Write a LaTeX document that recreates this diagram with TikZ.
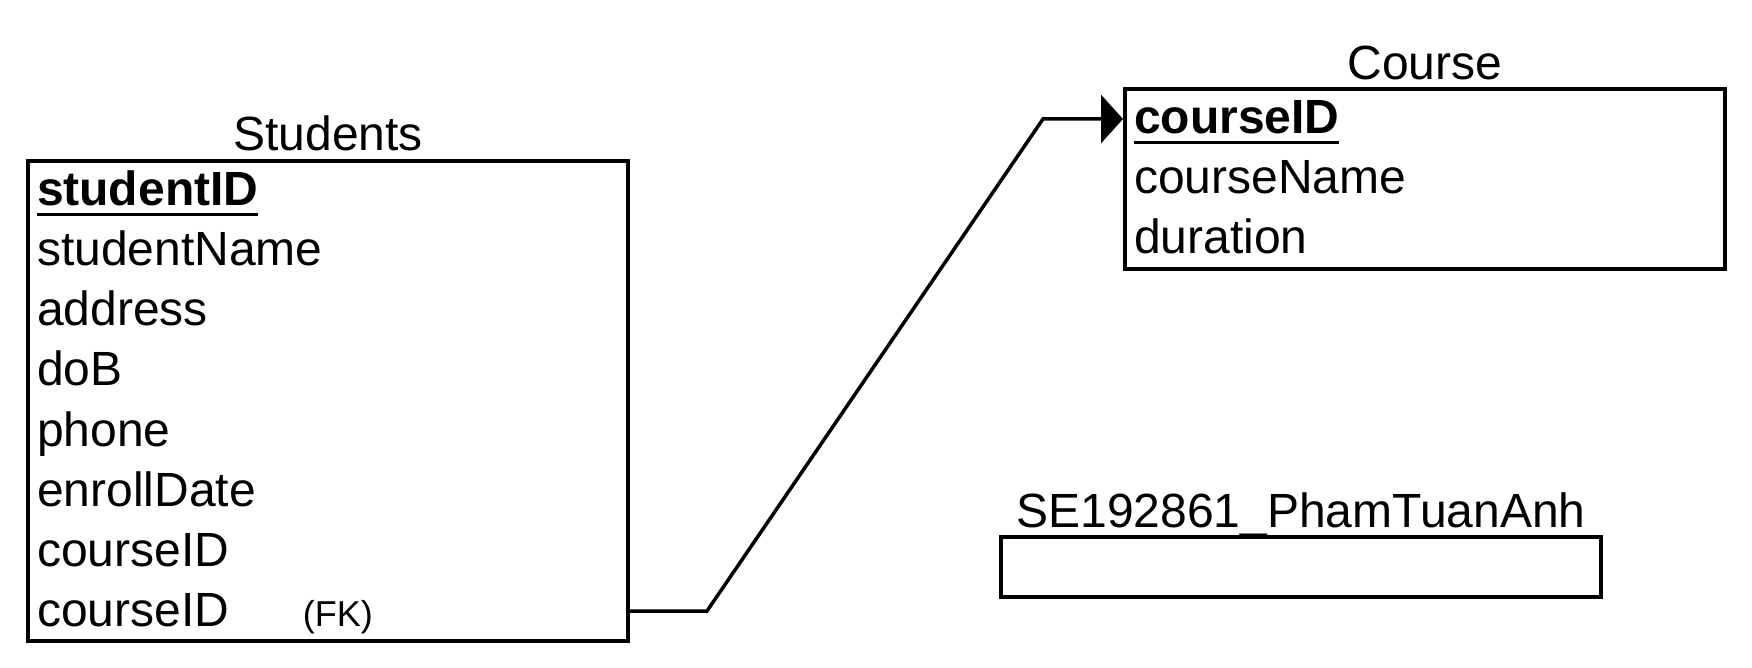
\documentclass[tikz,border=0pt]{standalone}
\usepackage{fontspec}
\setmainfont{Liberation Sans}
\usepackage{tikz}
\usetikzlibrary{positioning,arrows.meta}

\newlength\pkwd
\newcommand{\pkey}[1]{\settowidth{\pkwd}{\textbf{#1}}\rlap{\textbf{#1}}\rule[-5pt]{\pkwd}{1.6pt}}

\begin{document}
\begin{tikzpicture}[->,>={Triangle[length=11pt,width=24pt]},shorten >=1pt,x=0.5pt,y=-0.5pt,
        line width=1.75pt,
        table/.style={rectangle,draw,anchor=north west,minimum width=300pt,inner sep=0pt,outer sep=0pt},
        title/.style={inner sep=0pt,outer sep=0pt,text depth=0pt,font=\fontsize{24}{28}\selectfont},
        field/.style={text width=290pt,align=left,minimum height=30pt,text height=20pt,text depth=5pt,
        inner sep=0pt,outer sep=0pt,font=\fontsize{24}{28}\selectfont}]

    \useasboundingbox (0,0) rectangle (1752,668);

    \node[table,minimum height=240pt] (S) at (28,161) {};
    \node[title,above=5pt of S] {Students};
    \node[field,below right=0pt and 4.5pt of S.north west] (s1) {\pkey{studentID}};
    \node[field,below=0pt of s1] (s2) {studentName};
    \node[field,below=0pt of s2] (s3) {address};
    \node[field,below=0pt of s3] (s4) {doB};
    \node[field,below=0pt of s4] (s5) {phone};
    \node[field,below=0pt of s5] (s6) {enrollDate};
    \node[field,below=0pt of s6] (s7) {courseID};
    \node[field,below=0pt of s7] (s8) {\makebox[133pt][l]{courseID}{\fontsize{18}{20}\selectfont (FK)}};

    \node[table,minimum height=90pt] (C) at (1125,89) {};
    \node[title,above=4.5pt of C] {Course};
    \node[field,below right=0pt and 4.5pt of C.north west] (c1) {\pkey{courseID}};
    \node[field,below=0pt of c1] (c2) {courseName};
    \node[field,below=0pt of c2] (c3) {duration};

    \node[table,minimum height=30pt] (N) at (1001,537) {};
    \node[title,above=5pt of N] {SE192861\_PhamTuanAnh};

    \coordinate (b1) at (707,611);
    \coordinate (b2) at (1043,119);
    \draw (s8 -| S.east) -- (b1) -- (b2) -- (c1 -| C.west);

\end{tikzpicture}
\end{document}
